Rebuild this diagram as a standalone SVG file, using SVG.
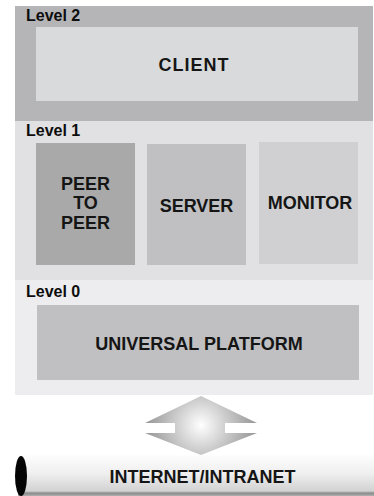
<svg xmlns="http://www.w3.org/2000/svg" width="374" height="496" viewBox="0 0 374 496">
  <defs>
    <style>
      .lvl { font-family: "Liberation Sans", Arial, sans-serif; font-weight: bold; font-size: 16px; fill: #0d0d0d; }
      .lbl { font-family: "Liberation Sans", Arial, sans-serif; font-weight: bold; font-size: 18px; fill: #151515; text-anchor: middle; }
    </style>
    <radialGradient id="arrowShade" cx="201" cy="425" r="62" gradientUnits="userSpaceOnUse">
      <stop offset="0" stop-color="#ffffff"/>
      <stop offset="0.5" stop-color="#c2c2c2"/>
      <stop offset="1" stop-color="#8a8a8a"/>
    </radialGradient>
    <linearGradient id="pipeShade" x1="0" y1="455" x2="0" y2="496" gradientUnits="userSpaceOnUse">
      <stop offset="0" stop-color="#fdfdfd"/>
      <stop offset="0.45" stop-color="#efefef"/>
      <stop offset="0.88" stop-color="#d2d2d2"/>
      <stop offset="0.93" stop-color="#8a8a8a"/>
      <stop offset="1" stop-color="#b0b0b0"/>
    </linearGradient>
  </defs>

  <rect width="374" height="496" fill="#ffffff"/>

  <!-- level bands -->
  <g id="level2">
    <rect x="15" y="6" width="358" height="115" fill="#b5b5b7"/>
    <text class="lvl" x="26" y="21">Level 2</text>
  </g>
  <g id="level1">
    <rect x="15" y="121" width="358" height="159" fill="#e1e1e3"/>
    <text class="lvl" x="26" y="136">Level 1</text>
  </g>
  <g id="level0">
    <rect x="15" y="280" width="358" height="115" fill="#ededef"/>
    <text class="lvl" x="26" y="297">Level 0</text>
  </g>

  <!-- components -->
  <g id="client">
    <rect x="36" y="27" width="322" height="74" fill="#d9dadc"/>
    <text class="lbl" x="194" y="71" letter-spacing="1">CLIENT</text>
  </g>
  <g id="peer-to-peer">
    <rect x="36" y="143" width="99" height="122" fill="#a9a9aa"/>
    <text class="lbl" x="85.5" y="190">PEER</text>
    <text class="lbl" x="85.5" y="209">TO</text>
    <text class="lbl" x="85.5" y="229">PEER</text>
  </g>
  <g id="server">
    <rect x="147" y="144" width="99" height="121" fill="#c0c0c2"/>
    <text class="lbl" x="196.5" y="212">SERVER</text>
  </g>
  <g id="monitor">
    <rect x="259" y="142" width="99" height="122" fill="#d0d0d2"/>
    <text class="lbl" x="310" y="209">MONITOR</text>
  </g>
  <g id="universal-platform">
    <rect x="37" y="305" width="322" height="75" fill="#c0c0c2"/>
    <text class="lbl" x="199" y="350">UNIVERSAL PLATFORM</text>
  </g>

  <!-- connector between platform and network -->
  <g id="connectors">
    <path d="M201 396 L257 423 L225 423 L225 433 L257 433 L201 455 L145 433 L175 433 L175 423 L145 423 Z" fill="url(#arrowShade)"/>
  </g>

  <!-- network pipe -->
  <g id="internet">
    <rect x="18" y="455" width="356" height="41" fill="url(#pipeShade)"/>
    <ellipse cx="21" cy="476" rx="6" ry="20" fill="#050505"/>
    <text class="lbl" x="202.5" y="483">INTERNET/INTRANET</text>
  </g>
</svg>
